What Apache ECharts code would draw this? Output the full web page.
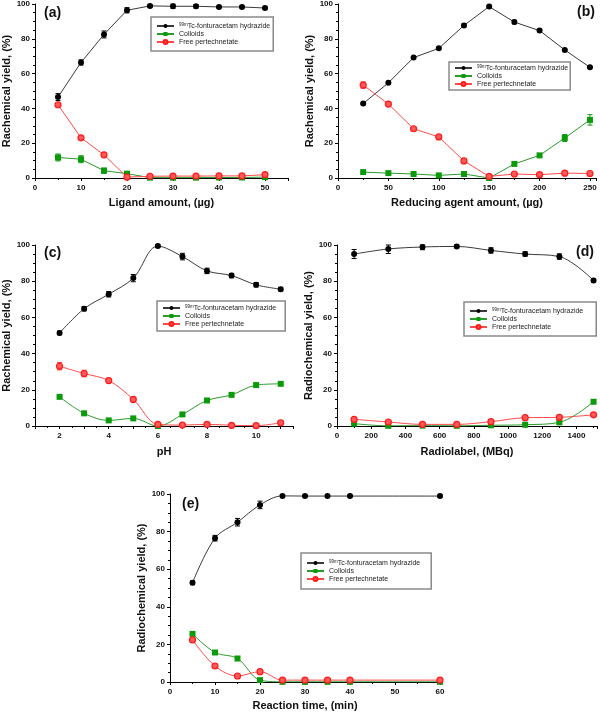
<!DOCTYPE html>
<html><head><meta charset="utf-8">
<script src="https://cdn.jsdelivr.net/npm/echarts@6/dist/echarts.min.js"></script>
<style>html,body{margin:0;padding:0;background:#fff}#c{width:600px;height:715px}</style>
</head><body><div id="c"></div>
<script>
// ---- Data ----
const seriesNames = ['99mTc-fonturacetam hydrazide', 'Colloids', 'Free pertechnetate'];

// (a) Ligand amount
const xA = [5, 10, 15, 20, 25, 30, 35, 40, 45, 50];
const aComplex = [46.5, 66.4, 82.5, 96.4, 98.9, 98.7, 98.7, 98.3, 98.3, 97.7];
const aColloid = [11.8, 10.8, 4.2, 2.5, 0.2, 0.2, 0.2, 0.3, 0.3, 0.5];
const aFree = [42.1, 23.1, 13.3, 0.5, 1.0, 1.1, 1.1, 1.2, 1.2, 1.9];
const aComplexErr = [2, 1.5, 2, 1.5, 0.8, 1.2, 1, 0.6, 0.6, 0.6];
const aColloidErr = [2, 2, 1.5, 0.8, 0.3, 0.3, 0.3, 0.3, 0.3, 0.3];
const aFreeErr = [0.8, 0.6, 0.6, 0.3, 0.4, 0.4, 0.4, 0.4, 0.4, 0.5];

// (b) Reducing agent amount
const xB = [25, 50, 75, 100, 125, 150, 175, 200, 225, 250];
const bComplex = [42.8, 54.7, 69.2, 74.5, 87.7, 98.5, 89.6, 84.7, 73.6, 63.6];
const bColloid = [3.4, 2.8, 2.3, 1.5, 2.3, 0.0, 8.1, 13.0, 23.0, 33.4];
const bFree = [53.4, 42.5, 28.3, 23.6, 9.8, 0.9, 2.3, 1.9, 2.8, 2.6];
const bComplexErr = [0.5, 0.5, 0.5, 0.5, 0.8, 0.5, 1, 0.8, 0.5, 0.5];
const bColloidErr = [0.3, 0.3, 0.3, 0.8, 0.3, 0.3, 0.5, 0.8, 2, 3];
const bFreeErr = [1.8, 1.2, 0.5, 0.5, 0.5, 1, 0.3, 0.3, 0.3, 0.3];

// (c) pH
const xC = [2, 3, 4, 5, 6, 7, 8, 9, 10, 11];
const cComplex = [51.4, 64.8, 72.8, 81.7, 99.4, 93.6, 85.7, 83.1, 78.0, 75.6];
const cColloid = [16.1, 7.0, 3.1, 4.2, 0.0, 6.4, 14.1, 17.2, 22.6, 23.3];
const cFree = [33.0, 29.0, 25.1, 14.7, 0.9, 0.5, 0.9, 0.4, 0.2, 1.8];
const cComplexErr = [1, 1.2, 1.5, 2, 0.8, 1.8, 1.5, 1.2, 1.2, 1];
const cColloidErr = [0.5, 0.5, 0.5, 0.5, 0.3, 0.5, 0.5, 0.5, 0.8, 0.5];
const cFreeErr = [2, 1.8, 1.2, 0.8, 1, 0.3, 0.8, 0.5, 0.3, 1];

// (d) Radiolabel
const xD = [100, 300, 500, 700, 900, 1100, 1300, 1500];
const dComplex = [95.0, 97.8, 98.9, 99.2, 97.0, 95.0, 93.6, 80.4];
const dColloid = [1.3, 0.1, 0.2, 0.1, 0.4, 0.7, 2.0, 13.4];
const dFree = [3.7, 2.2, 0.9, 0.9, 2.4, 4.6, 4.8, 6.2];
const dComplexErr = [2.5, 2.5, 1.5, 0.8, 1.5, 1.2, 1.5, 1];
const dColloidErr = [0.3, 0.3, 0.3, 0.3, 0.3, 0.3, 0.3, 1];
const dFreeErr = [0.5, 0.5, 0.5, 0.5, 0.5, 0.5, 0.5, 0.5];

// (e) Reaction time
const xE = [5, 10, 15, 20, 25, 30, 35, 40, 60];
const eComplex = [52.8, 76.5, 85.0, 94.2, 99.0, 98.9, 98.9, 98.9, 98.9];
const eColloid = [25.6, 15.7, 12.5, 1.0, 0.1, 0.1, 0.1, 0.1, 0.1];
const eFree = [22.4, 8.5, 3.2, 5.5, 1.0, 1.0, 1.0, 1.0, 1.0];
const eComplexErr = [1, 1.5, 2, 2, 0.5, 0.5, 0.5, 0.5, 0.5];
const eColloidErr = [0.8, 0.5, 0.5, 0.3, 0.2, 0.2, 0.2, 0.2, 0.2];
const eFreeErr = [1.2, 1, 0.5, 0.5, 0.3, 0.3, 0.3, 0.3, 0.3];

const xNames = ['Ligand amount, (µg)', 'Reducing agent amount, (µg)', 'pH', 'Radiolabel, (MBq)', 'Reaction time, (min)'];
const yNames = ['Rachemical yield, (%)', 'Rachemical yield, (%)', 'Rachemical yield, (%)', 'Radiochemical yield, (%)', 'Radiochemical yield, (%)'];
const panelLetters = ['(a)', '(b)', '(c)', '(d)', '(e)'];

// ---- Build ----
const FONT = '"Liberation Sans", Arial, sans-serif';
const COLORS = ['#000000', '#0a9a0a', '#ff2020'];
const LINECOLORS = ['#3a3a3a', '#2a9a2a', '#ff4a4a'];

const panels = [
  {x: xA, ys: [aComplex, aColloid, aFree], es: [aComplexErr, aColloidErr, aFreeErr], smooth: false,
   grid: {left: 35, top: 3, width: 253, height: 175}, xmin: 0, xmax: 55, xint: 10, xlabelEvery: 10,
   legend: {left: 151, top: 17, padding: [5, 3, 5, 5]}, nameGapX: 19, nameGapY: 23, letter: [44, 6]},
  {x: xB, ys: [bComplex, bColloid, bFree], es: [bComplexErr, bColloidErr, bFreeErr], smooth: false,
   grid: {left: 338, top: 3, width: 258, height: 175}, xmin: 0, xmax: 256, xint: 50, xlabelEvery: 50,
   legend: {left: 449, top: 62, padding: [2, 2, 2, 5]}, nameGapX: 19, nameGapY: 23, letter: [577, 5]},
  {x: xC, ys: [cComplex, cColloid, cFree], es: [cComplexErr, cColloidErr, cFreeErr], smooth: 0.35,
   grid: {left: 33, top: 245, width: 260, height: 181}, xmin: 1, xmax: 11.5, xint: 1, xlabelEvery: 2,
   legend: {left: 157, top: 301, padding: [3, 9, 3, 5]}, nameGapX: 20, nameGapY: 23, letter: [44, 246]},
  {x: xD, ys: [dComplex, dColloid, dFree], es: [dComplexErr, dColloidErr, dFreeErr], smooth: 0.35,
   grid: {left: 337, top: 245, width: 260, height: 181}, xmin: 0, xmax: 1520, xint: 200, xlabelEvery: 200,
   legend: {left: 464, top: 302, padding: [5, 13, 5, 5]}, nameGapX: 20, nameGapY: 23, letter: [576, 245]},
  {x: xE, ys: [eComplex, eColloid, eFree], es: [eComplexErr, eColloidErr, eFreeErr], smooth: 0.35,
   grid: {left: 170, top: 494, width: 270, height: 188}, xmin: 0, xmax: 60, xint: 10, xlabelEvery: 10,
   legend: {left: 301, top: 553, padding: [6, 11, 6, 5]}, nameGapX: 18, nameGapY: 23, letter: [182, 497]}
];

const grids = [], xAxes = [], yAxes = [], series = [], legends = [], graphics = [];
const symbols = ['circle', 'rect', 'circle'];

panels.forEach((p, i) => {
  grids.push(p.grid);
  xAxes.push({
    type: 'value', gridIndex: i, min: p.xmin, max: p.xmax, interval: p.xint,
    name: xNames[i], nameLocation: 'middle', nameGap: p.nameGapX,
    nameTextStyle: {fontFamily: FONT, fontWeight: 'bold', fontSize: 11, color: '#111'},
    axisLine: {show: true, onZero: false, lineStyle: {color: '#000', width: 1}},
    axisTick: {show: true, length: 3, lineStyle: {color: '#000'}},
    minorTick: {show: true, splitNumber: 2, length: 2, lineStyle: {color: '#000'}},
    splitLine: {show: false},
    axisLabel: {fontFamily: FONT, fontWeight: 'bold', fontSize: 8, color: '#111', margin: 6,
      formatter: v => (Math.abs(v / p.xlabelEvery - Math.round(v / p.xlabelEvery)) < 1e-6 && v <= p.x[p.x.length-1] + 1e-6 && !(i === 2 && v < 2)) ? String(v) : ''}
  });
  yAxes.push({
    type: 'value', gridIndex: i, min: 0, max: 100, interval: 20,
    name: yNames[i], nameLocation: 'middle', nameGap: p.nameGapY,
    nameTextStyle: {fontFamily: FONT, fontWeight: 'bold', fontSize: 11, color: '#111'},
    axisLine: {show: true, lineStyle: {color: '#000', width: 1}},
    axisTick: {show: true, length: 3, lineStyle: {color: '#000'}},
    minorTick: {show: true, splitNumber: 4, length: 2, lineStyle: {color: '#000'}},
    splitLine: {show: false},
    axisLabel: {fontFamily: FONT, fontWeight: 'bold', fontSize: 8, color: '#111', margin: 5}
  });
  p.ys.forEach((ys, k) => {
    series.push({
      name: seriesNames[k], type: 'line', xAxisIndex: i, yAxisIndex: i,
      data: p.x.map((x, j) => [x, ys[j]]),
      smooth: p.smooth, symbol: symbols[k], symbolSize: 6, showSymbol: true,
      lineStyle: {color: LINECOLORS[k], width: 1},
      itemStyle: k === 2 ? {color: '#ff5a5a', borderColor: '#ff1a1a', borderWidth: 1.2} : {color: COLORS[k], borderColor: COLORS[k], borderWidth: 0},
      z: 3 + k, animation: false
    });
    series.push({
      type: 'custom', xAxisIndex: i, yAxisIndex: i, z: 2,
      data: p.x.map((x, j) => [x, ys[j], p.es[k][j]]),
      renderItem: (params, api) => {
        const x = api.value(0), y = api.value(1), e = api.value(2);
        const top = api.coord([x, Math.min(100, y + e)]);
        const bot = api.coord([x, Math.max(0, y - e)]);
        const st = {stroke: COLORS[k], lineWidth: 1};
        return {type: 'group', children: [
          {type: 'line', shape: {x1: top[0], y1: top[1], x2: bot[0], y2: bot[1]}, style: st},
          {type: 'line', shape: {x1: top[0] - 2.5, y1: top[1], x2: top[0] + 2.5, y2: top[1]}, style: st},
          {type: 'line', shape: {x1: bot[0] - 2.5, y1: bot[1], x2: bot[0] + 2.5, y2: bot[1]}, style: st}
        ]};
      },
      silent: true, animation: false
    });
  });
  legends.push({
    left: p.legend.left, top: p.legend.top, orient: 'vertical',
    data: seriesNames, itemWidth: 17, itemHeight: 5, itemGap: 0,
    padding: p.legend.padding, borderColor: '#8a8a8a', borderWidth: 1.5,
    selectedMode: false,
    formatter: n => n.startsWith('99m') ? '{s|99m}' + n.slice(3) : n,
    textStyle: {fontFamily: FONT, fontSize: 7, color: '#222', lineHeight: 8,
      rich: {s: {fontSize: 4.5, fontFamily: FONT, verticalAlign: 'top', lineHeight: 8, color: '#222'}}}
  });
  graphics.push({type: 'text', left: p.letter[0], top: p.letter[1],
    style: {text: panelLetters[i], font: 'bold 14px ' + FONT, fill: '#111'}});
});

const chart = echarts.init(document.getElementById('c'), null, {renderer: 'canvas'});
chart.setOption({
  animation: false,
  backgroundColor: '#fff',
  grid: grids, xAxis: xAxes, yAxis: yAxes, series: series, legend: legends, graphic: graphics
});
</script></body></html>
